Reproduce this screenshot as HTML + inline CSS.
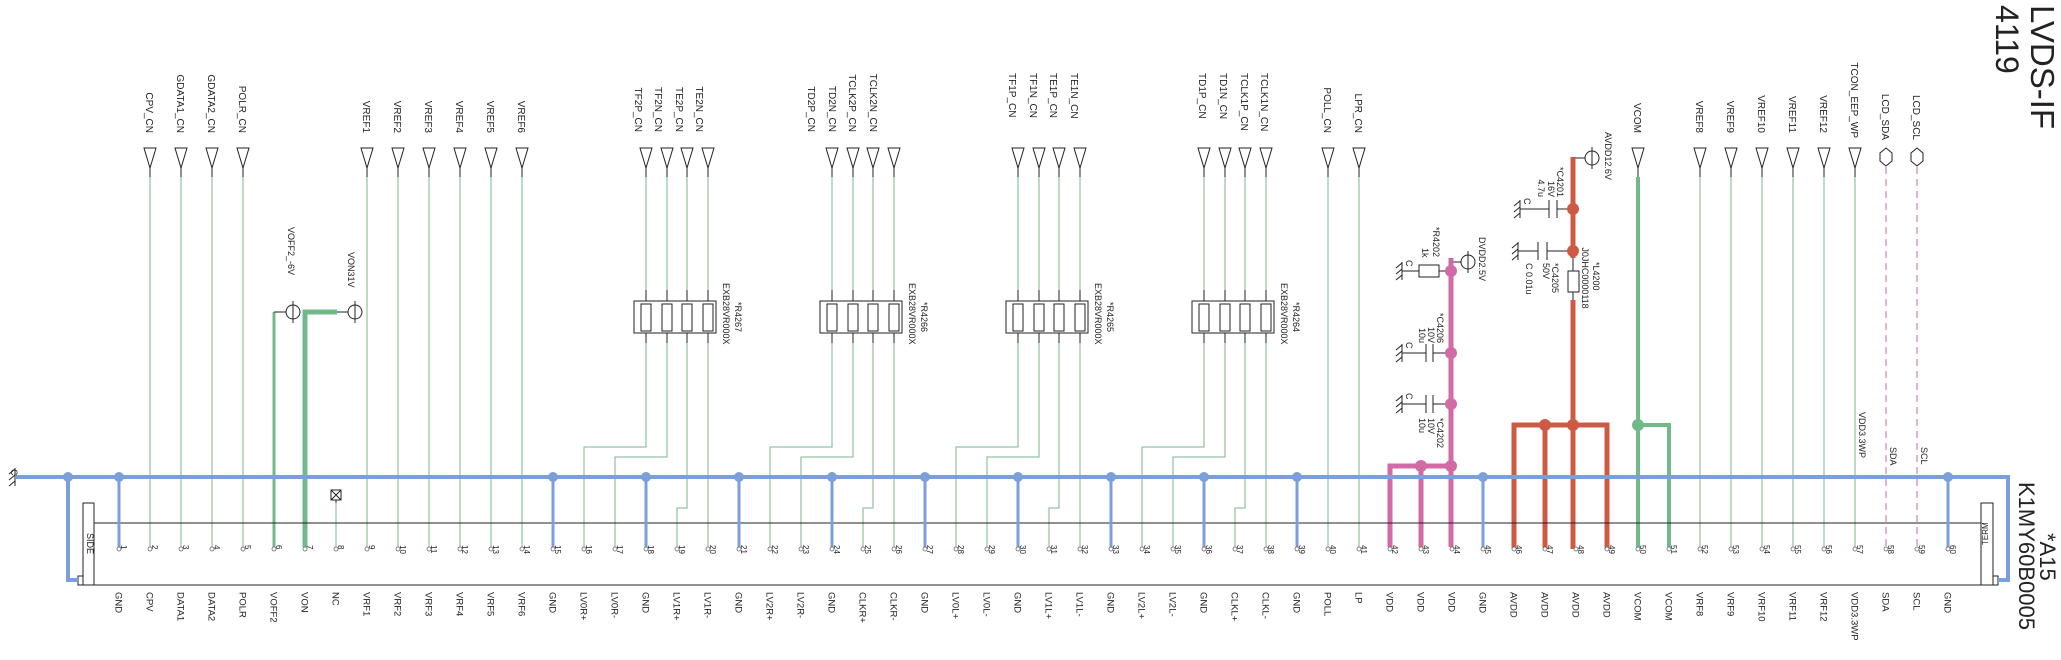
<!DOCTYPE html>
<html><head><meta charset="utf-8"><style>
html,body{margin:0;padding:0;background:#fff}
svg{display:block}
text{font-family:"Liberation Sans",Arial,sans-serif;fill:#222}
.t{font-size:10px}
.b{font-size:9.5px}
.n{font-size:8px}
.s{font-size:9px}
.g{stroke:#7bb58f;stroke-width:1;fill:none}
.k{stroke:#222;stroke-width:1;fill:none}
.bl{stroke:#7b9fd8;fill:none}
</style></head><body>
<svg width="2061" height="660" viewBox="0 0 2061 660" xmlns="http://www.w3.org/2000/svg">
<defs>
<g id="tri"><polygon points="-6,148 6,148 0,168" fill="#fff" stroke="#222"/><line x1="0" y1="168" x2="0" y2="177" stroke="#222"/></g>
<g id="gnd"><line x1="0" y1="-9" x2="0" y2="9" stroke="#222"/><line x1="0" y1="-8" x2="-6" y2="-3" stroke="#222"/><line x1="0" y1="-2" x2="-6" y2="3" stroke="#222"/><line x1="0" y1="4" x2="-6" y2="9" stroke="#222"/></g>
<g id="pwr"><circle r="7" fill="#fff" stroke="#222"/><line x1="0" y1="-11" x2="0" y2="11" stroke="#222"/></g>
</defs>

<!-- thin green signal lines -->
<g class="g">
<path d="M150,177V547M181,177V547M212,177V547M243,177V547"/>
<path d="M367,177V547M398,177V547M429,177V547M460,177V547M491,177V547M522,177V547"/>
<path d="M1328,177V547M1359,177V547"/>
<path d="M1700,177V547M1731,177V547M1762,177V547M1793,177V547M1824,177V547M1855,177V547"/>
<path d="M336,503V547"/>
<!-- group R4267 -->
<path d="M646,177V290M667,177V290M687,177V290M708,177V290"/>
<path d="M646,343V447H584V547M667,343V457H615V547M687,343V508H677V547M708,343V547"/>
<!-- group R4266 -->
<path d="M832,177V290M853,177V290M873,177V290M894,177V290"/>
<path d="M832,343V447H770V547M853,343V457H801V547M873,343V508H863V547M894,343V547"/>
<!-- group R4265 -->
<path d="M1018,177V290M1039,177V290M1059,177V290M1080,177V290"/>
<path d="M1018,343V447H956V547M1039,343V457H987V547M1059,343V508H1049V547M1080,343V547"/>
<!-- group R4264 -->
<path d="M1204,177V290M1225,177V290M1245,177V290M1266,177V290"/>
<path d="M1204,343V447H1142V547M1225,343V457H1173V547M1245,343V508H1235V547M1266,343V547"/>
</g>
<!-- dashed SDA/SCL -->
<path d="M1886,167V547M1917,167V547" stroke="#c46aae" stroke-width="1" stroke-dasharray="7,5" fill="none"/>

<!-- resistor arrays -->
<g class="k">
<path d="M646,290V343M667,290V343M687,290V343M708,290V343"/>
<rect x="634" y="301" width="82" height="32" fill="#fff"/>
<rect x="641" y="304" width="10" height="27"/><rect x="662" y="304" width="10" height="27"/><rect x="682" y="304" width="10" height="27"/><rect x="703" y="304" width="10" height="27"/>
<path d="M832,290V343M853,290V343M873,290V343M894,290V343"/>
<rect x="820" y="301" width="82" height="32" fill="#fff"/>
<rect x="827" y="304" width="10" height="27"/><rect x="848" y="304" width="10" height="27"/><rect x="868" y="304" width="10" height="27"/><rect x="889" y="304" width="10" height="27"/>
<path d="M1018,290V343M1039,290V343M1059,290V343M1080,290V343"/>
<rect x="1006" y="301" width="82" height="32" fill="#fff"/>
<rect x="1013" y="304" width="10" height="27"/><rect x="1034" y="304" width="10" height="27"/><rect x="1054" y="304" width="10" height="27"/><rect x="1075" y="304" width="10" height="27"/>
<path d="M1204,290V343M1225,290V343M1245,290V343M1266,290V343"/>
<rect x="1192" y="301" width="82" height="32" fill="#fff"/>
<rect x="1199" y="304" width="10" height="27"/><rect x="1220" y="304" width="10" height="27"/><rect x="1240" y="304" width="10" height="27"/><rect x="1261" y="304" width="10" height="27"/>
</g>
<g class="s">
<text transform="translate(723,283) rotate(90)">EXB28VR000X</text><text transform="translate(735,317) rotate(90)" text-anchor="middle">*R4267</text>
<text transform="translate(909,283) rotate(90)">EXB28VR000X</text><text transform="translate(921,317) rotate(90)" text-anchor="middle">*R4266</text>
<text transform="translate(1095,283) rotate(90)">EXB28VR000X</text><text transform="translate(1107,317) rotate(90)" text-anchor="middle">*R4265</text>
<text transform="translate(1281,283) rotate(90)">EXB28VR000X</text><text transform="translate(1293,317) rotate(90)" text-anchor="middle">*R4264</text>
</g>

<!-- input triangles -->
<g>
<use href="#tri" x="150"/><use href="#tri" x="181"/><use href="#tri" x="212"/><use href="#tri" x="243"/>
<use href="#tri" x="367"/><use href="#tri" x="398"/><use href="#tri" x="429"/><use href="#tri" x="460"/><use href="#tri" x="491"/><use href="#tri" x="522"/>
<use href="#tri" x="646"/><use href="#tri" x="667"/><use href="#tri" x="687"/><use href="#tri" x="708"/>
<use href="#tri" x="832"/><use href="#tri" x="853"/><use href="#tri" x="873"/><use href="#tri" x="894"/>
<use href="#tri" x="1018"/><use href="#tri" x="1039"/><use href="#tri" x="1059"/><use href="#tri" x="1080"/>
<use href="#tri" x="1204"/><use href="#tri" x="1225"/><use href="#tri" x="1245"/><use href="#tri" x="1266"/>
<use href="#tri" x="1328"/><use href="#tri" x="1359"/><use href="#tri" x="1638"/>
<use href="#tri" x="1700"/><use href="#tri" x="1731"/><use href="#tri" x="1762"/><use href="#tri" x="1793"/><use href="#tri" x="1824"/><use href="#tri" x="1855"/>
</g>
<polygon points="1886,148 1892,153 1892,161 1886,166 1880,161 1880,153" fill="#fff" stroke="#222"/>
<polygon points="1917,148 1923,153 1923,161 1917,166 1911,161 1911,153" fill="#fff" stroke="#222"/>

<!-- top labels -->
<g class="t" text-anchor="end">
<text transform="translate(146,133) rotate(90)">CPV_CN</text>
<text transform="translate(177,133) rotate(90)">GDATA1_CN</text>
<text transform="translate(208,133) rotate(90)">GDATA2_CN</text>
<text transform="translate(239,133) rotate(90)">POLR_CN</text>
<text transform="translate(363,133) rotate(90)">VREF1</text>
<text transform="translate(394,133) rotate(90)">VREF2</text>
<text transform="translate(425,133) rotate(90)">VREF3</text>
<text transform="translate(456,133) rotate(90)">VREF4</text>
<text transform="translate(487,133) rotate(90)">VREF5</text>
<text transform="translate(518,133) rotate(90)">VREF6</text>
<text transform="translate(635,132) rotate(90)">TF2P_CN</text>
<text transform="translate(655,132) rotate(90)">TF2N_CN</text>
<text transform="translate(676,132) rotate(90)">TE2P_CN</text>
<text transform="translate(696,132) rotate(90)">TE2N_CN</text>
<text transform="translate(808,132) rotate(90)">TD2P_CN</text>
<text transform="translate(829,132) rotate(90)">TD2N_CN</text>
<text transform="translate(849,132) rotate(90)">TCLK2P_CN</text>
<text transform="translate(870,132) rotate(90)">TCLK2N_CN</text>
<text transform="translate(1324,133) rotate(90)">POLL_CN</text>
<text transform="translate(1355,133) rotate(90)">LPR_CN</text>
<text transform="translate(1634,133) rotate(90)">VCOM</text>
<text transform="translate(1696,133) rotate(90)">VREF8</text>
<text transform="translate(1727,133) rotate(90)">VREF9</text>
<text transform="translate(1758,133) rotate(90)">VREF10</text>
<text transform="translate(1789,133) rotate(90)">VREF11</text>
<text transform="translate(1820,133) rotate(90)">VREF12</text>
<text transform="translate(1851,138) rotate(90)">TCON_EEP_WP</text>
<text transform="translate(1882,140) rotate(90)">LCD_SDA</text>
<text transform="translate(1913,140) rotate(90)">LCD_SCL</text>
</g>
<g class="t">
<text transform="translate(1009,73) rotate(90)">TF1P_CN</text>
<text transform="translate(1030,73) rotate(90)">TF1N_CN</text>
<text transform="translate(1050,73) rotate(90)">TE1P_CN</text>
<text transform="translate(1071,73) rotate(90)">TE1N_CN</text>
<text transform="translate(1199,73) rotate(90)">TD1P_CN</text>
<text transform="translate(1220,73) rotate(90)">TD1N_CN</text>
<text transform="translate(1241,73) rotate(90)">TCLK1P_CN</text>
<text transform="translate(1261,73) rotate(90)">TCLK1N_CN</text>
</g>

<!-- title -->
<text transform="translate(2031,5) rotate(90)" style="font-size:33px">LVDS-IF</text>
<text transform="translate(1996,5) rotate(90)" style="font-size:32px">4119</text>

<!-- VOFF2 / VON -->
<path d="M274,312V547" stroke="#72b98a" stroke-width="3" fill="none"/>
<path d="M305,547V312H337" stroke="#72b98a" stroke-width="5" fill="none"/>
<line x1="274" y1="312" x2="286" y2="312" stroke="#222"/>
<line x1="337" y1="312" x2="348" y2="312" stroke="#222"/>
<use href="#pwr" x="293" y="312"/><use href="#pwr" x="355" y="312"/>
<text class="s" transform="translate(288,227) rotate(90)">VOFF2_-6V</text>
<text class="s" transform="translate(348,252) rotate(90)">VON31V</text>

<!-- NC -->
<rect x="331" y="490" width="10" height="10" fill="#fff" stroke="#222"/>
<path d="M331,490L341,500M341,490L331,500M336,500V503" stroke="#222" fill="none"/>

<!-- VCOM -->
<path d="M1638,177V547M1638,425H1669V547" stroke="#72b98a" stroke-width="4" fill="none"/>
<circle cx="1638" cy="425" r="6" fill="#72b98a"/>

<!-- DVDD (pink) -->
<g class="k">
<line x1="1451" y1="262" x2="1461" y2="262"/>
<path d="M1402,271H1419M1439,271H1451"/><rect x="1419" y="265" width="20" height="12" fill="#fff"/>
<path d="M1402,353H1426M1433,353H1451M1426,344V362M1433,344V362"/>
<path d="M1402,404H1426M1433,404H1451M1426,395V413M1433,395V413"/>
</g>
<use href="#gnd" x="1402" y="271"/><use href="#gnd" x="1402" y="353"/><use href="#gnd" x="1402" y="404"/>
<use href="#pwr" x="1468" y="262"/>
<path d="M1451,258V547M1390,547V466H1451M1421,466V547" stroke="#d26aa6" stroke-width="5" fill="none"/>
<g fill="#d26aa6"><circle cx="1451" cy="271" r="6"/><circle cx="1451" cy="353" r="6"/><circle cx="1451" cy="404" r="6"/><circle cx="1451" cy="466" r="6"/><circle cx="1421" cy="466" r="6"/></g>
<g class="s">
<text transform="translate(1479,237) rotate(90)">DVDD2.5V</text>
<text transform="translate(1433,227) rotate(90)">*R4202</text>
<text transform="translate(1422,248) rotate(90)">1k</text>
<text transform="translate(1437,343) rotate(90)" text-anchor="end">*C4206</text>
<text transform="translate(1428,343) rotate(90)" text-anchor="end">10V</text>
<text transform="translate(1419,343) rotate(90)" text-anchor="end">10u</text>
<text transform="translate(1437,418) rotate(90)">*C4202</text>
<text transform="translate(1428,418) rotate(90)">10V</text>
<text transform="translate(1419,418) rotate(90)">10u</text>
<text transform="translate(1406,260) rotate(90)">C</text>
<text transform="translate(1406,342) rotate(90)">C</text>
<text transform="translate(1406,393) rotate(90)">C</text>
</g>

<!-- AVDD (red) -->
<g class="k">
<line x1="1573" y1="158" x2="1585" y2="158"/>
<path d="M1520,209H1549M1557,209H1573M1549,200V218M1557,200V218"/>
<path d="M1518,251H1538M1547,251H1573M1538,242V260M1547,242V260"/>
<path d="M1573,258V271M1573,292V300"/><rect x="1568" y="271" width="11" height="21" fill="#fff"/>
</g>
<use href="#gnd" x="1520" y="209"/><use href="#gnd" x="1518" y="251"/>
<use href="#pwr" x="1592" y="158"/>
<path d="M1573,157V258M1573,300V549M1514,549V425H1607V549M1545,425V549" stroke="#cf5a44" stroke-width="5" fill="none"/>
<g fill="#cf5a44"><circle cx="1573" cy="209" r="6"/><circle cx="1573" cy="251" r="6"/><circle cx="1573" cy="425" r="6"/><circle cx="1545" cy="425" r="6"/></g>
<g class="s">
<text transform="translate(1605,132) rotate(90)">AVDD12.6V</text>
<text transform="translate(1557,197) rotate(90)" text-anchor="end">*C4201</text>
<text transform="translate(1548,197) rotate(90)" text-anchor="end">16V</text>
<text transform="translate(1538,197) rotate(90)" text-anchor="end">4.7u</text>
<text transform="translate(1552,263) rotate(90)">*C4205</text>
<text transform="translate(1543,263) rotate(90)">50V</text>
<text transform="translate(1526,263) rotate(90)">C 0.01u</text>
<text transform="translate(1593,262) rotate(90)">*L4200</text>
<text transform="translate(1582,278) rotate(90)" text-anchor="middle">J0JHC0000118</text>
<text transform="translate(1524,198) rotate(90)">C</text>
</g>

<!-- connector body -->
<g class="k">
<path d="M94,523H1981"/>
<path d="M78,585H1998"/>
<rect x="83" y="503" width="11" height="82" fill="none"/>
<rect x="78" y="576" width="5" height="9"/>
<rect x="1981" y="503" width="12" height="82" fill="none"/>
<rect x="1993" y="576" width="5" height="9"/>
</g>
<text class="s" transform="translate(87,533) rotate(90)">SIDE</text>
<text class="n" transform="translate(1988,545) rotate(-90)">TERM</text>
<text transform="translate(2019,482) rotate(90)" style="font-size:22px">K1MY60B0005</text>
<text transform="translate(2040,533) rotate(90)" style="font-size:22px">*A15</text>
<text class="s" transform="translate(1859,412) rotate(90)">VDD3.3WP</text>
<text class="s" transform="translate(1890,447) rotate(90)">SDA</text>
<text class="s" transform="translate(1921,447) rotate(90)">SCL</text>

<!-- GND bus -->
<path d="M16,477H2008V580H1998M68,477V580H78" stroke="#7b9fd8" stroke-width="4" fill="none"/>
<path d="M119,477V547M553,477V547M646,477V547M739,477V547M832,477V547M925,477V547M1018,477V547M1111,477V547M1204,477V547M1297,477V547M1483,477V547M1948,477V547" stroke="#7b9fd8" stroke-width="3" fill="none"/>
<g fill="#7b9fd8"><circle cx="68" cy="477" r="5"/><circle cx="119" cy="477" r="5"/><circle cx="553" cy="477" r="5"/><circle cx="646" cy="477" r="5"/><circle cx="739" cy="477" r="5"/><circle cx="832" cy="477" r="5"/><circle cx="925" cy="477" r="5"/><circle cx="1018" cy="477" r="5"/><circle cx="1111" cy="477" r="5"/><circle cx="1204" cy="477" r="5"/><circle cx="1297" cy="477" r="5"/><circle cx="1483" cy="477" r="5"/><circle cx="1948" cy="477" r="5"/></g>
<use href="#gnd" x="15" y="477"/>
<text class="s" transform="translate(11,469) rotate(90)">C</text>

<!-- pin circles -->
<g fill="#fff" stroke="#666" stroke-width="0.8">
<circle cx="119" cy="549" r="2"/><circle cx="150" cy="549" r="2"/><circle cx="181" cy="549" r="2"/><circle cx="212" cy="549" r="2"/><circle cx="243" cy="549" r="2"/><circle cx="274" cy="549" r="2"/><circle cx="305" cy="549" r="2"/><circle cx="336" cy="549" r="2"/><circle cx="367" cy="549" r="2"/><circle cx="398" cy="549" r="2"/><circle cx="429" cy="549" r="2"/><circle cx="460" cy="549" r="2"/><circle cx="491" cy="549" r="2"/><circle cx="522" cy="549" r="2"/><circle cx="553" cy="549" r="2"/><circle cx="584" cy="549" r="2"/><circle cx="615" cy="549" r="2"/><circle cx="646" cy="549" r="2"/><circle cx="677" cy="549" r="2"/><circle cx="708" cy="549" r="2"/><circle cx="739" cy="549" r="2"/><circle cx="770" cy="549" r="2"/><circle cx="801" cy="549" r="2"/><circle cx="832" cy="549" r="2"/><circle cx="863" cy="549" r="2"/><circle cx="894" cy="549" r="2"/><circle cx="925" cy="549" r="2"/><circle cx="956" cy="549" r="2"/><circle cx="987" cy="549" r="2"/><circle cx="1018" cy="549" r="2"/><circle cx="1049" cy="549" r="2"/><circle cx="1080" cy="549" r="2"/><circle cx="1111" cy="549" r="2"/><circle cx="1142" cy="549" r="2"/><circle cx="1173" cy="549" r="2"/><circle cx="1204" cy="549" r="2"/><circle cx="1235" cy="549" r="2"/><circle cx="1266" cy="549" r="2"/><circle cx="1297" cy="549" r="2"/><circle cx="1328" cy="549" r="2"/><circle cx="1359" cy="549" r="2"/><circle cx="1390" cy="549" r="2"/><circle cx="1421" cy="549" r="2"/><circle cx="1452" cy="549" r="2"/><circle cx="1483" cy="549" r="2"/><circle cx="1514" cy="549" r="2"/><circle cx="1545" cy="549" r="2"/><circle cx="1576" cy="549" r="2"/><circle cx="1607" cy="549" r="2"/><circle cx="1638" cy="549" r="2"/><circle cx="1669" cy="549" r="2"/><circle cx="1700" cy="549" r="2"/><circle cx="1731" cy="549" r="2"/><circle cx="1762" cy="549" r="2"/><circle cx="1793" cy="549" r="2"/><circle cx="1824" cy="549" r="2"/><circle cx="1855" cy="549" r="2"/><circle cx="1886" cy="549" r="2"/><circle cx="1917" cy="549" r="2"/><circle cx="1948" cy="549" r="2"/>
</g>

<!-- pin numbers -->
<g class="n">
<text transform="translate(121,545) rotate(90)">1</text><text transform="translate(152,545) rotate(90)">2</text><text transform="translate(183,545) rotate(90)">3</text><text transform="translate(214,545) rotate(90)">4</text><text transform="translate(245,545) rotate(90)">5</text><text transform="translate(276,545) rotate(90)">6</text><text transform="translate(307,545) rotate(90)">7</text><text transform="translate(338,545) rotate(90)">8</text><text transform="translate(369,545) rotate(90)">9</text><text transform="translate(400,545) rotate(90)">10</text>
<text transform="translate(431,545) rotate(90)">11</text><text transform="translate(462,545) rotate(90)">12</text><text transform="translate(493,545) rotate(90)">13</text><text transform="translate(524,545) rotate(90)">14</text><text transform="translate(555,545) rotate(90)">15</text><text transform="translate(586,545) rotate(90)">16</text><text transform="translate(617,545) rotate(90)">17</text><text transform="translate(648,545) rotate(90)">18</text><text transform="translate(679,545) rotate(90)">19</text><text transform="translate(710,545) rotate(90)">20</text>
<text transform="translate(741,545) rotate(90)">21</text><text transform="translate(772,545) rotate(90)">22</text><text transform="translate(803,545) rotate(90)">23</text><text transform="translate(834,545) rotate(90)">24</text><text transform="translate(865,545) rotate(90)">25</text><text transform="translate(896,545) rotate(90)">26</text><text transform="translate(927,545) rotate(90)">27</text><text transform="translate(958,545) rotate(90)">28</text><text transform="translate(989,545) rotate(90)">29</text><text transform="translate(1020,545) rotate(90)">30</text>
<text transform="translate(1051,545) rotate(90)">31</text><text transform="translate(1082,545) rotate(90)">32</text><text transform="translate(1113,545) rotate(90)">33</text><text transform="translate(1144,545) rotate(90)">34</text><text transform="translate(1175,545) rotate(90)">35</text><text transform="translate(1206,545) rotate(90)">36</text><text transform="translate(1237,545) rotate(90)">37</text><text transform="translate(1268,545) rotate(90)">38</text><text transform="translate(1299,545) rotate(90)">39</text><text transform="translate(1330,545) rotate(90)">40</text>
<text transform="translate(1361,545) rotate(90)">41</text><text transform="translate(1392,545) rotate(90)">42</text><text transform="translate(1423,545) rotate(90)">43</text><text transform="translate(1454,545) rotate(90)">44</text><text transform="translate(1485,545) rotate(90)">45</text><text transform="translate(1516,545) rotate(90)">46</text><text transform="translate(1547,545) rotate(90)">47</text><text transform="translate(1578,545) rotate(90)">48</text><text transform="translate(1609,545) rotate(90)">49</text><text transform="translate(1640,545) rotate(90)">50</text>
<text transform="translate(1671,545) rotate(90)">51</text><text transform="translate(1702,545) rotate(90)">52</text><text transform="translate(1733,545) rotate(90)">53</text><text transform="translate(1764,545) rotate(90)">54</text><text transform="translate(1795,545) rotate(90)">55</text><text transform="translate(1826,545) rotate(90)">56</text><text transform="translate(1857,545) rotate(90)">57</text><text transform="translate(1888,545) rotate(90)">58</text><text transform="translate(1919,545) rotate(90)">59</text><text transform="translate(1950,545) rotate(90)">60</text>
</g>

<!-- bottom labels -->
<g class="b">
<text transform="translate(115.5,592) rotate(90)">GND</text><text transform="translate(146.5,592) rotate(90)">CPV</text><text transform="translate(177.5,592) rotate(90)">DATA1</text><text transform="translate(208.5,592) rotate(90)">DATA2</text><text transform="translate(239.5,592) rotate(90)">POLR</text><text transform="translate(270.5,592) rotate(90)">VOFF2</text><text transform="translate(301.5,592) rotate(90)">VON</text><text transform="translate(332.5,592) rotate(90)">NC</text><text transform="translate(363.5,592) rotate(90)">VRF1</text><text transform="translate(394.5,592) rotate(90)">VRF2</text>
<text transform="translate(425.5,592) rotate(90)">VRF3</text><text transform="translate(456.5,592) rotate(90)">VRF4</text><text transform="translate(487.5,592) rotate(90)">VRF5</text><text transform="translate(518.5,592) rotate(90)">VRF6</text><text transform="translate(549.5,592) rotate(90)">GND</text><text transform="translate(580.5,592) rotate(90)">LV0R+</text><text transform="translate(611.5,592) rotate(90)">LV0R-</text><text transform="translate(642.5,592) rotate(90)">GND</text><text transform="translate(673.5,592) rotate(90)">LV1R+</text><text transform="translate(704.5,592) rotate(90)">LV1R-</text>
<text transform="translate(735.5,592) rotate(90)">GND</text><text transform="translate(766.5,592) rotate(90)">LV2R+</text><text transform="translate(797.5,592) rotate(90)">LV2R-</text><text transform="translate(828.5,592) rotate(90)">GND</text><text transform="translate(859.5,592) rotate(90)">CLKR+</text><text transform="translate(890.5,592) rotate(90)">CLKR-</text><text transform="translate(921.5,592) rotate(90)">GND</text><text transform="translate(952.5,592) rotate(90)">LV0L+</text><text transform="translate(983.5,592) rotate(90)">LV0L-</text><text transform="translate(1014.5,592) rotate(90)">GND</text>
<text transform="translate(1045.5,592) rotate(90)">LV1L+</text><text transform="translate(1076.5,592) rotate(90)">LV1L-</text><text transform="translate(1107.5,592) rotate(90)">GND</text><text transform="translate(1138.5,592) rotate(90)">LV2L+</text><text transform="translate(1169.5,592) rotate(90)">LV2L-</text><text transform="translate(1200.5,592) rotate(90)">GND</text><text transform="translate(1231.5,592) rotate(90)">CLKL+</text><text transform="translate(1262.5,592) rotate(90)">CLKL-</text><text transform="translate(1293.5,592) rotate(90)">GND</text><text transform="translate(1324.5,592) rotate(90)">POLL</text>
<text transform="translate(1355.5,592) rotate(90)">LP</text><text transform="translate(1386.5,592) rotate(90)">VDD</text><text transform="translate(1417.5,592) rotate(90)">VDD</text><text transform="translate(1448.5,592) rotate(90)">VDD</text><text transform="translate(1479.5,592) rotate(90)">GND</text><text transform="translate(1510.5,592) rotate(90)">AVDD</text><text transform="translate(1541.5,592) rotate(90)">AVDD</text><text transform="translate(1572.5,592) rotate(90)">AVDD</text><text transform="translate(1603.5,592) rotate(90)">AVDD</text><text transform="translate(1634.5,592) rotate(90)">VCOM</text>
<text transform="translate(1665.5,592) rotate(90)">VCOM</text><text transform="translate(1696.5,592) rotate(90)">VRF8</text><text transform="translate(1727.5,592) rotate(90)">VRF9</text><text transform="translate(1758.5,592) rotate(90)">VRF10</text><text transform="translate(1789.5,592) rotate(90)">VRF11</text><text transform="translate(1820.5,592) rotate(90)">VRF12</text><text transform="translate(1851.5,592) rotate(90)">VDD3.3WP</text><text transform="translate(1882.5,592) rotate(90)">SDA</text><text transform="translate(1913.5,592) rotate(90)">SCL</text><text transform="translate(1944.5,592) rotate(90)">GND</text>
</g>
</svg>
</body></html>
